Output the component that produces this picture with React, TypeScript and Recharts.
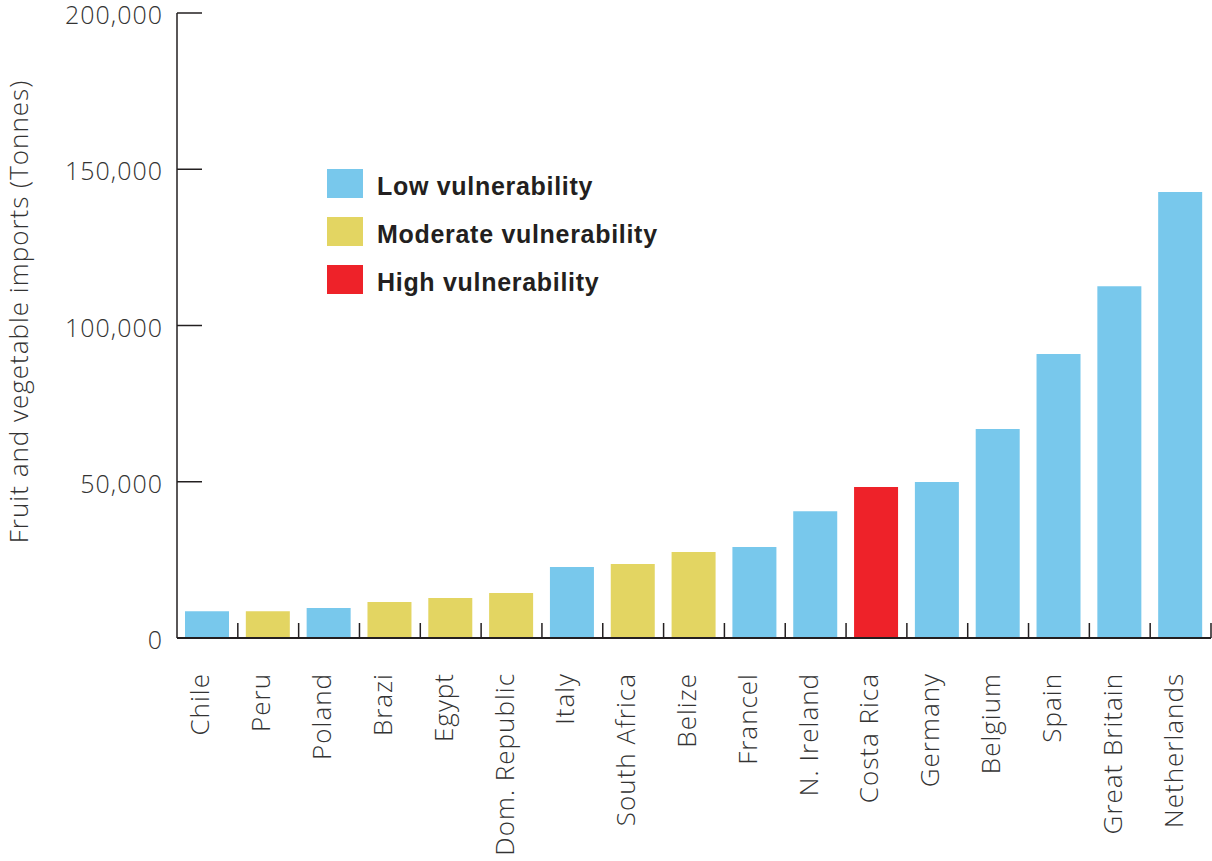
import React from 'react';
import { BarChart, Bar, XAxis, YAxis, Cell, Legend, Label } from 'recharts';

// values
const countries = [
  'Chile', 'Peru', 'Poland', 'Brazi', 'Egypt', 'Dom. Republic', 'Italy', 'South Africa',
  'Belize', 'Francel', 'N. Ireland', 'Costa Rica', 'Germany', 'Belgium', 'Spain',
  'Great Britain', 'Netherlands',
];
const imports = [
  8600, 8600, 9600, 11500, 12800, 14400, 22700, 23700,
  27500, 29100, 40600, 48300, 49900, 66900, 90900,
  112600, 142700,
];
const vulnerability = [
  'low', 'moderate', 'low', 'moderate', 'moderate', 'moderate', 'low', 'moderate',
  'moderate', 'low', 'low', 'high', 'low', 'low', 'low',
  'low', 'low',
];
const yTicks = [0, 50000, 100000, 150000, 200000];
const legendKeys = ['low', 'moderate', 'high'];
const legendLabels = ['Low vulnerability', 'Moderate vulnerability', 'High vulnerability'];

const colors: Record<string, string> = {
  low: '#78C8EC',
  moderate: '#E3D562',
  high: '#EE2229',
};

const AXIS = '#231f20';
const TEXT = '#333333';
const THIN_FONT = '"Open Sans", Lato, sans-serif';

const data = countries.map((name, i) => ({
  name,
  imports: imports[i],
  level: vulnerability[i],
}));

const fmt = (v: number) => v.toLocaleString('en-US');

const YTick = (props: any) => {
  const { x, y, payload } = props;
  return (
    <g>
      <line x1={x + 14} x2={x + 39} y1={y} y2={y} stroke={AXIS} strokeWidth={1.5} />
      <text x={x} y={y} dy={11} textAnchor="end" fill={TEXT}
        style={{ fontFamily: THIN_FONT, fontSize: 25, fontWeight: 300, letterSpacing: 1 }}>
        {fmt(payload.value)}
      </text>
    </g>
  );
};

const XTick = (props: any) => {
  const { x, y, payload } = props;
  const edge = x + (payload.offset ?? 0);
  return (
    <g>
      <line x1={edge} x2={edge} y1={y - 15} y2={y} stroke={AXIS} strokeWidth={1.5} />
      <text transform={`translate(${x + 2},${y + 35}) rotate(-90)`} textAnchor="end" fill={TEXT}
        style={{ fontFamily: THIN_FONT, fontSize: 26, fontWeight: 300, letterSpacing: 1 }}>
        {payload.value}
      </text>
    </g>
  );
};

const YTitle = (props: any) => {
  const { viewBox } = props;
  const cx = viewBox.x + 28;
  const cy = viewBox.y + viewBox.height / 2 - 14;
  return (
    <text transform={`translate(${cx},${cy}) rotate(-90)`} textAnchor="middle" fill={TEXT}
      style={{ fontFamily: THIN_FONT, fontSize: 26, fontWeight: 300, letterSpacing: 1 }}>
      Fruit and vegetable imports (Tonnes)
    </text>
  );
};

const VulnLegend = () => (
  <div>
    {legendKeys.map((k, i) => (
      <div key={k} style={{ display: 'flex', alignItems: 'center', height: 29, marginBottom: 19 }}>
        <div style={{ width: 36, height: 29, background: colors[k] }} />
        <span style={{
          marginLeft: 14, fontFamily: '"Liberation Sans", Arial, sans-serif', fontWeight: 'bold',
          fontSize: 25, letterSpacing: 0.7, color: '#231f20', position: 'relative', top: 3,
          whiteSpace: 'nowrap',
        }}>
          {legendLabels[i]}
        </span>
      </div>
    ))}
  </div>
);

export default function App() {
  return (
    <div style={{ position: 'absolute', left: 0, top: 0, background: '#fff' }}>
      <BarChart width={1212} height={861} data={data}
        margin={{ top: 13, right: 1, bottom: 0, left: 0 }}>
        <XAxis dataKey="name" interval={0} height={223} tickSize={0} tickMargin={0}
          axisLine={{ stroke: AXIS, strokeWidth: 2 }} tickLine={false} tick={<XTick />} />
        <YAxis width={177} domain={[0, 200000]} ticks={yTicks} interval={0}
          tickSize={0} tickMargin={14} tickLine={false}
          axisLine={{ stroke: AXIS, strokeWidth: 1.5 }} tick={<YTick />}>
          <Label content={<YTitle />} />
        </YAxis>
        <Legend layout="vertical" align="center" verticalAlign="middle"
          wrapperStyle={{ left: 327, top: 169, width: 420 }} content={() => <VulnLegend />} />
        <Bar dataKey="imports" barSize={44} isAnimationActive={false}>
          {data.map((d, i) => (
            <Cell key={`cell-${i}`} fill={colors[d.level]} />
          ))}
        </Bar>
      </BarChart>
    </div>
  );
}
